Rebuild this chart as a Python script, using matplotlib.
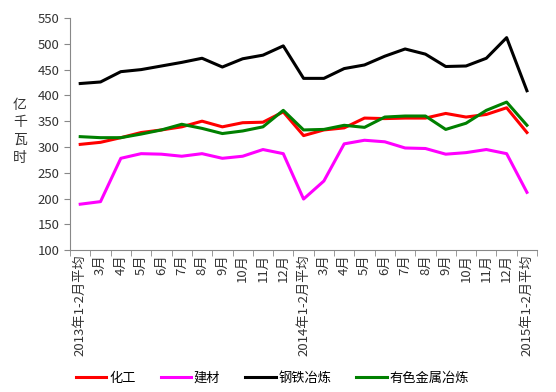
import matplotlib
matplotlib.use("Agg")
import matplotlib.pyplot as plt

plt.rcParams['font.family'] = ['Noto Sans CJK SC', 'DejaVu Sans']

# 月份标签
months = ["2013年1-2月平均", "3月", "4月", "5月", "6月", "7月", "8月", "9月", "10月", "11月", "12月",
          "2014年1-2月平均", "3月", "4月", "5月", "6月", "7月", "8月", "9月", "10月", "11月", "12月",
          "2015年1-2月平均"]

# 用电量 (亿千瓦时)
huagong = [305, 309, 318, 328, 333, 339, 350, 339, 347, 348, 368,
           322, 333, 337, 356, 355, 356, 356, 365, 358, 363, 376, 328]
jiancai = [189, 194, 278, 287, 286, 282, 287, 278, 282, 295, 287,
           199, 234, 306, 313, 310, 298, 297, 286, 289, 295, 287, 212]
gangtie = [423, 426, 446, 450, 457, 464, 472, 455, 471, 478, 496,
           433, 433, 452, 459, 476, 490, 480, 456, 457, 472, 512, 409]
youse = [320, 318, 318, 325, 333, 344, 336, 326, 331, 339, 371,
         333, 334, 342, 338, 358, 360, 360, 334, 346, 371, 387, 342]

series = [("化工", huagong, "#ff0000"),
          ("建材", jiancai, "#ff00ff"),
          ("钢铁冶炼", gangtie, "#000000"),
          ("有色金属冶炼", youse, "#008000")]

fig = plt.figure(figsize=(5.56, 3.92), dpi=100)
ax = fig.add_axes([0.126, 0.362, 0.840, 0.592])

x = list(range(len(months)))
for name, vals, color in series:
    ax.plot(x, vals, color=color, linewidth=2.2, label=name)

ax.set_xlim(-0.5, len(months) - 0.5)
ax.set_ylim(100, 550)
ax.set_yticks(range(100, 551, 50))

# category labels centred, tick marks on the boundaries
ax.set_xticks(x)
ax.set_xticklabels(months, rotation=90, fontsize=9.5, color="#333333")
ax.tick_params(axis="x", which="major", length=0, pad=3)
ax.set_xticks([i - 0.5 for i in range(len(months) + 1)], minor=True)
ax.tick_params(axis="x", which="minor", length=4, direction="out", color="#888888")
ax.tick_params(axis="y", length=4, direction="out", color="#888888", labelsize=9.5,
               labelcolor="#333333")

for side in ["top", "right"]:
    ax.spines[side].set_visible(False)
for side in ["left", "bottom"]:
    ax.spines[side].set_color("#888888")

fig.text(0.036, 0.665, "亿\n千\n瓦\n时", fontsize=10, ha="center", va="center",
         linespacing=1.35, color="#333333")

fig.legend(loc="lower center", bbox_to_anchor=(0.49, -0.012), ncol=4, frameon=False,
           fontsize=9.5, handlelength=2.3, columnspacing=1.9, handletextpad=0.2)

fig.savefig("out.png", dpi=100)
